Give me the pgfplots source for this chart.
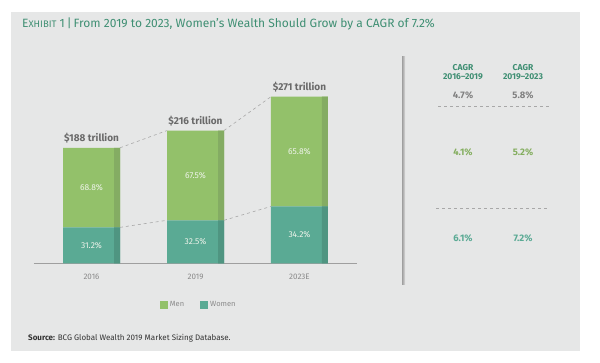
\documentclass[border=0pt]{standalone}
\usepackage{pgfplots}
\pgfplotsset{compat=1.18}
\usepackage{fontspec}
\setmainfont{Fira Sans}
\definecolor{bg}{HTML}{E6E7E7}
\definecolor{men}{HTML}{93C16A}
\definecolor{menD}{HTML}{84AC63}
\definecolor{women}{HTML}{5AAA94}
\definecolor{womenD}{HTML}{4F9581}
\definecolor{titlec}{HTML}{3F8F73}
\definecolor{tickgray}{HTML}{8A8A8A}
\definecolor{labgray}{HTML}{6A6A6A}
\definecolor{pctc}{HTML}{EEF3EA}
\definecolor{dashc}{HTML}{A8A8A8}
\pgfplotsset{base/.style={scale only axis, width=323pt, height=184.65pt,
  xmin=-0.553, xmax=2.553, ymin=0, ymax=300, at={(34pt,99.5pt)}, anchor=south west}}
\begin{document}
\begin{tikzpicture}[x=1pt,y=1pt]
\fill[white] (0,0) rectangle (600,363);
\fill[bg] (11,12) rectangle (580,351);
% title
\node[anchor=west, text=titlec, font=\fontsize{12}{14}\selectfont, inner sep=0] at (22,339)
  {E{\fontsize{9.5}{11}\selectfont XHIBIT} 1\,|\,From 2019 to 2023, Women’s Wealth Should Grow by a CAGR of 7.2\%};
% main bars
\begin{axis}[base, ybar stacked, bar width=57pt,
  axis x line*=bottom, axis y line=none,
  x axis line style={draw=gray!75, line width=0.8pt},
  xtick={0,1,2}, xticklabels={2016,2019,2023E}, ytick=\empty,
  major tick length=0pt,
  xticklabel style={font=\fontsize{8}{10}\selectfont, text=tickgray, yshift=-7pt}]
\addplot[fill=women, draw=none] coordinates {(0,58.7) (1,70.2) (2,92.7)};
\addplot[fill=men, draw=none] coordinates {(0,129.3) (1,145.8) (2,178.3)};
\end{axis}
% darker strips
\begin{axis}[base, axis lines=none, ybar stacked, bar width=6pt, bar shift=25.5pt]
\addplot[fill=womenD, draw=none] coordinates {(0,58.7) (1,70.2) (2,92.7)};
\addplot[fill=menD, draw=none] coordinates {(0,129.3) (1,145.8) (2,178.3)};
\end{axis}
% connectors, labels, legend
\begin{axis}[base, axis lines=none,
  legend style={at={(0.51,-0.225)}, anchor=center, draw=none, fill=none,
    legend columns=2, font=\fontsize{7.5}{9}\selectfont, text=tickgray,
    /tikz/every even column/.append style={column sep=14pt}},
  legend image code/.code={\fill[#1] (-6pt,-4pt) rectangle (2pt,4pt);}]
\addplot[dashc, dashed, line width=0.6pt, forget plot] coordinates {(0.274,188) (0.726,216)};
\addplot[dashc, dashed, line width=0.6pt, forget plot] coordinates {(1.274,216) (1.726,271)};
\addplot[dashc, dashed, line width=0.6pt, forget plot] coordinates {(0.274,58.7) (0.726,70.2)};
\addplot[dashc, dashed, line width=0.6pt, forget plot] coordinates {(1.274,70.2) (1.726,92.7)};
\addplot[draw=none, forget plot, nodes near coords, point meta=explicit symbolic,
  nodes near coords style={font=\bfseries\fontsize{10}{12}\selectfont, text=labgray, anchor=south, yshift=1pt}]
  coordinates {(0,188) [\$188 trillion] (1,216) [\$216 trillion] (2,271) [\$271 trillion]};
\addplot[draw=none, forget plot, nodes near coords, point meta=explicit symbolic,
  nodes near coords style={font=\fontsize{8.5}{10}\selectfont, text=pctc, anchor=center}]
  coordinates {(0,123.35) [68.8\%] (1,143.1) [67.5\%] (2,181.85) [65.8\%]
               (0,29.35) [31.2\%] (1,35.1) [32.5\%] (2,46.35) [34.2\%]};
\addlegendimage{fill=men, draw=none}
\addlegendentry{Men}
\addlegendimage{fill=women, draw=none}
\addlegendentry{Women}
\end{axis}
% right panel
\shade[left color=gray!75, right color=gray!30] (402,306) rectangle (405,78);
\begin{scope}[font=\bfseries\fontsize{8.5}{10}\selectfont, text=titlec, align=center]
\node at (463,291) {CAGR\\[-1pt]2016–2019};
\node at (523,291) {CAGR\\[-1pt]2019–2023};
\end{scope}
\begin{scope}[font=\bfseries\fontsize{9.5}{11}\selectfont]
\node[text=labgray!85] at (463,268) {4.7\%};
\node[text=labgray!85] at (523,268) {5.8\%};
\node[text=men!90!black] at (463,211) {4.1\%};
\node[text=men!90!black] at (523,211) {5.2\%};
\node[text=women] at (463,125) {6.1\%};
\node[text=women] at (523,125) {7.2\%};
\end{scope}
\draw[dashc, dashed, line width=0.6pt] (438,257) -- (550,257);
\draw[dashc, dashed, line width=0.6pt] (436,155) -- (548,155);
% source
\node[anchor=west, inner sep=0, text=black!80, font=\fontsize{8}{10}\selectfont] at (28,25)
  {\textbf{Source:} BCG Global Wealth 2019 Market Sizing Database.};
\end{tikzpicture}
\end{document}
